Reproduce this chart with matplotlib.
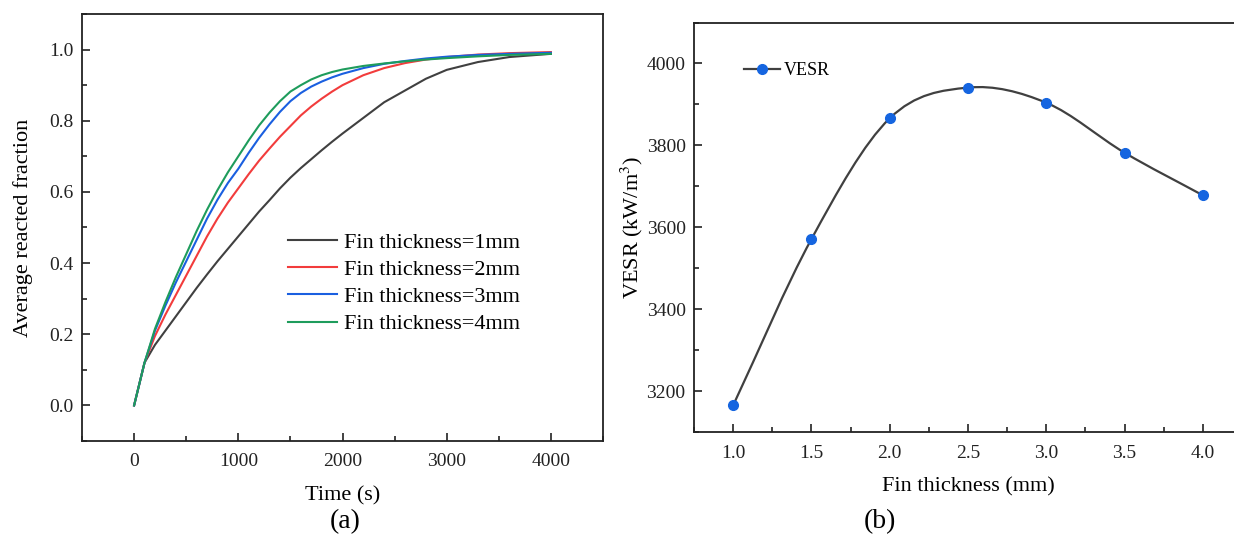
import matplotlib
matplotlib.use("Agg")
import matplotlib.pyplot as plt
import numpy as np
from matplotlib.path import Path
from matplotlib.patches import PathPatch
from matplotlib.ticker import MultipleLocator, FormatStrFormatter

plt.rcParams['font.family'] = ['Liberation Serif', 'DejaVu Serif']
plt.rcParams['mathtext.fontset'] = 'stix'

# reacted fraction vs time for each fin thickness
time_s = [0, 100, 200, 300, 400, 500, 600, 700, 800, 900, 1000, 1100, 1200, 1300, 1400,
          1500, 1600, 1700, 1800, 1900, 2000, 2200, 2400, 2600, 2800, 3000, 3300, 3600, 4000]
frac_1mm = [0, 0.120, 0.170, 0.210, 0.250, 0.290, 0.330, 0.368, 0.405, 0.440, 0.475, 0.510, 0.545, 0.577, 0.610,
            0.640, 0.667, 0.692, 0.717, 0.741, 0.764, 0.808, 0.852, 0.885, 0.918, 0.943, 0.965, 0.979, 0.988]
frac_2mm = [0, 0.120, 0.195, 0.255, 0.310, 0.365, 0.420, 0.475, 0.525, 0.570, 0.610, 0.650, 0.688, 0.722, 0.755,
            0.785, 0.815, 0.840, 0.862, 0.882, 0.900, 0.928, 0.948, 0.962, 0.972, 0.979, 0.986, 0.990, 0.993]
frac_3mm = [0, 0.120, 0.210, 0.280, 0.345, 0.405, 0.465, 0.525, 0.578, 0.625, 0.665, 0.710, 0.752, 0.790, 0.825,
            0.855, 0.878, 0.896, 0.910, 0.922, 0.932, 0.948, 0.960, 0.968, 0.975, 0.980, 0.985, 0.988, 0.991]
frac_4mm = [0, 0.120, 0.215, 0.290, 0.360, 0.425, 0.490, 0.550, 0.605, 0.655, 0.700, 0.745, 0.787, 0.823, 0.855,
            0.882, 0.900, 0.916, 0.928, 0.937, 0.944, 0.954, 0.961, 0.967, 0.972, 0.976, 0.981, 0.985, 0.988]
series_labels = ["Fin thickness=1mm", "Fin thickness=2mm", "Fin thickness=3mm", "Fin thickness=4mm"]
series_colors = ["#404040", "#f23c3c", "#1a5fe0", "#1e9c5c"]

# VESR vs fin thickness
fin_mm = [1.0, 1.5, 2.0, 2.5, 3.0, 3.5, 4.0]
vesr = [3165, 3571, 3866, 3941, 3904, 3782, 3678]

W, H = 1234, 542
fig = plt.figure(figsize=(W / 100, H / 100), dpi=100)

def px_axes(x0, y0, x1, y1):
    return fig.add_axes([x0 / W, 1 - y1 / H, (x1 - x0) / W, (y1 - y0) / H])

def style_axes(ax):
    for sp in ax.spines.values():
        sp.set_linewidth(1.3)
        sp.set_color("#222222")
    ax.tick_params(which='both', direction='in', top=False, right=False,
                   width=1.2, colors="#222222", labelsize=14)
    ax.tick_params(which='major', length=6, pad=6)
    ax.tick_params(which='minor', length=3.5)
    ax.tick_params(axis='x', which='major', pad=9)

# (a)
ax1 = px_axes(82, 14, 603, 441)
for y, lab, c in zip([frac_1mm, frac_2mm, frac_3mm, frac_4mm], series_labels, series_colors):
    ax1.plot(time_s, y, color=c, lw=1.5, label=lab)
ax1.set_xlim(-500, 4500)
ax1.set_ylim(-0.1, 1.1)
ax1.xaxis.set_major_locator(MultipleLocator(1000))
ax1.xaxis.set_minor_locator(MultipleLocator(500))
ax1.yaxis.set_major_locator(MultipleLocator(0.2))
ax1.yaxis.set_minor_locator(MultipleLocator(0.1))
ax1.yaxis.set_major_formatter(FormatStrFormatter('%.1f'))
style_axes(ax1)
ax1.set_xlabel("Time (s)", fontsize=16, labelpad=11)
ax1.set_ylabel("Average reacted fraction", fontsize=16, labelpad=12)
ax1.legend(loc='upper left', bbox_to_anchor=(0.374, 0.515), frameon=False, fontsize=16,
           handlelength=2.2, handletextpad=0.3, labelspacing=0.3, borderpad=0)

# (b)
ax2 = px_axes(694, 22.5, 1242, 432)
# smooth curve through the points (Catmull-Rom as cubic Bezier)
pts = np.column_stack([fin_mm, vesr]).astype(float)
ext = np.vstack([2 * pts[0] - pts[1], pts, 2 * pts[-1] - pts[-2]])
verts = [tuple(pts[0])]
codes = [Path.MOVETO]
for i in range(1, len(ext) - 2):
    p0, p1, p2, p3 = ext[i - 1], ext[i], ext[i + 1], ext[i + 2]
    verts += [tuple(p1 + (p2 - p0) / 6), tuple(p2 - (p3 - p1) / 6), tuple(p2)]
    codes += [Path.CURVE4] * 3
ax2.add_patch(PathPatch(Path(verts, codes), fill=False, edgecolor="#404040", lw=1.6))
ax2.plot(fin_mm, vesr, ls='none', marker='o', ms=7, color="#1565e0")
ax2.plot([], [], color="#404040", lw=1.6, marker='o', ms=7, mfc="#1565e0", mec="#1565e0", label="VESR")
ax2.set_xlim(0.75, 4.25)
ax2.set_ylim(3100, 4100)
ax2.xaxis.set_major_locator(MultipleLocator(0.5))
ax2.xaxis.set_minor_locator(MultipleLocator(0.25))
ax2.xaxis.set_major_formatter(FormatStrFormatter('%.1f'))
ax2.yaxis.set_major_locator(MultipleLocator(200))
ax2.yaxis.set_minor_locator(MultipleLocator(100))
style_axes(ax2)
ax2.set_xlabel("Fin thickness (mm)", fontsize=16, labelpad=11)
ax2.set_ylabel("VESR (kW/m$^3$)", fontsize=16, labelpad=1)
ax2.legend(loc='upper left', bbox_to_anchor=(0.075, 0.925), frameon=False, fontsize=13,
           handlelength=2.0, handletextpad=0.2, borderpad=0)

fig.text(345 / W, 1 - 522 / H, "(a)", fontsize=20, ha='center', va='center')
fig.text(880 / W, 1 - 522 / H, "(b)", fontsize=20, ha='center', va='center')

fig.savefig("out.png", dpi=100)
